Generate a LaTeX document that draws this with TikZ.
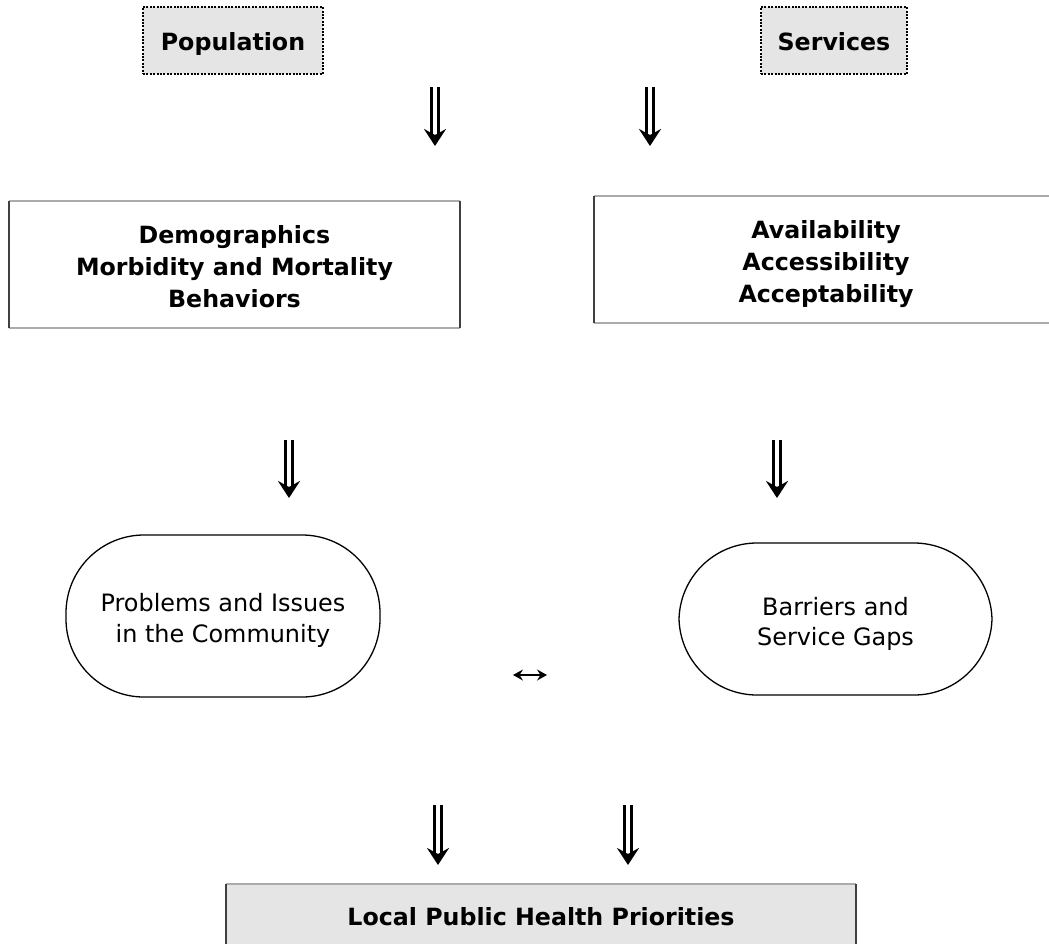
\documentclass[tikz,border=0pt]{standalone}
\usepackage{fontspec}
\setmainfont{DejaVu Sans}
\usetikzlibrary{arrows.meta}

\definecolor{boxgray}{HTML}{E5E5E5}
\definecolor{edgegray}{HTML}{ABABAB}
\definecolor{edgedark}{HTML}{404040}

\begin{document}
\begin{tikzpicture}[x=1bp, y=-1bp,
  every node/.style={inner sep=0pt, outer sep=0pt, align=center, text depth=0bp},
  boldtext/.style={font=\fontsize{23.8}{32}\selectfont\bfseries},
  plaintext/.style={font=\fontsize{24}{30.5}\selectfont},
  sourcebox/.style={boldtext, fill=boxgray, draw=black, line width=1.4bp,
    dash pattern=on 2bp off 1.4bp, minimum height=67bp, text height=20bp},
  infobox/.style={boldtext, minimum height=127bp, text height=85bp},
  topicpill/.style={plaintext, draw=black, line width=1.3bp, rounded corners=78bp},
  flowarrow/.style={draw=black, line width=2.8bp, double=white, double distance=4bp,
    -{Stealth[length=17bp, width=22bp, inset=6bp]}},
  linkarrow/.style={line width=1.2bp,
    {Stealth[length=10bp, width=11bp, inset=3.5bp]}-{Stealth[length=10bp, width=11bp, inset=3.5bp]}},
  lightedge/.style={draw=edgegray, line width=1.2bp},
  darkedge/.style={draw=edgedark, line width=1.2bp}
]
\useasboundingbox (0,0) rectangle (1049,944);
\clip (0,0) rectangle (1049,944);

% sources
\node[sourcebox, minimum width=180bp] (pop) at (233,40.5) {Population};
\node[sourcebox, minimum width=146bp] (serv) at (834,40.5) {Services};

% indicator boxes
\node[infobox, minimum width=451bp] (demo) at (234.5,264.5)
  {Demographics\\Morbidity and Mortality\\Behaviors};
\node[infobox, minimum width=464bp, text height=86bp] (avail) at (826,259.5)
  {Availability\\Accessibility\\Acceptability};
\foreach \b in {demo, avail} {
  \draw[lightedge] (\b.north west) -- (\b.north east);
  \draw[lightedge] (\b.south west) -- (\b.south east);
  \draw[darkedge] (\b.north west) -- (\b.south west);
  \draw[darkedge] (\b.north east) -- (\b.south east);
}

% findings
\node[topicpill, minimum width=314bp, minimum height=162bp, text height=52bp] (prob) at (223,616)
  {Problems and Issues\\in the Community};
\node[topicpill, minimum width=313bp, minimum height=152bp, text height=53bp] (gaps) at (835.5,619)
  {Barriers and\\Service Gaps};

% priorities
\node[boldtext, fill=boxgray, minimum width=630bp, minimum height=66bp, text height=17.5bp]
  (prio) at (541,917) {Local Public Health Priorities};
\draw[lightedge] (prio.north west) -- (prio.north east);
\draw[darkedge] (prio.north west) -- (prio.south west);
\draw[darkedge] (prio.north east) -- (prio.south east);

% arrow ends
\coordinate (a1s) at (435,87);   \coordinate (a1e) at (435,146);
\coordinate (a2s) at (650,87);   \coordinate (a2e) at (650,146);
\coordinate (b1s) at (289,440);  \coordinate (b1e) at (289,498);
\coordinate (b2s) at (777,440);  \coordinate (b2e) at (777,498);
\coordinate (c1s) at (438,805);  \coordinate (c1e) at (438,865);
\coordinate (c2s) at (628,805);  \coordinate (c2e) at (628,865);
\coordinate (lnkl) at (513,675); \coordinate (lnkr) at (547,675);

\draw[flowarrow] (a1s) -- (a1e);
\draw[flowarrow] (a2s) -- (a2e);
\draw[flowarrow] (b1s) -- (b1e);
\draw[flowarrow] (b2s) -- (b2e);
\draw[flowarrow] (c1s) -- (c1e);
\draw[flowarrow] (c2s) -- (c2e);
\draw[linkarrow] (lnkl) -- (lnkr);
\end{tikzpicture}
\end{document}
